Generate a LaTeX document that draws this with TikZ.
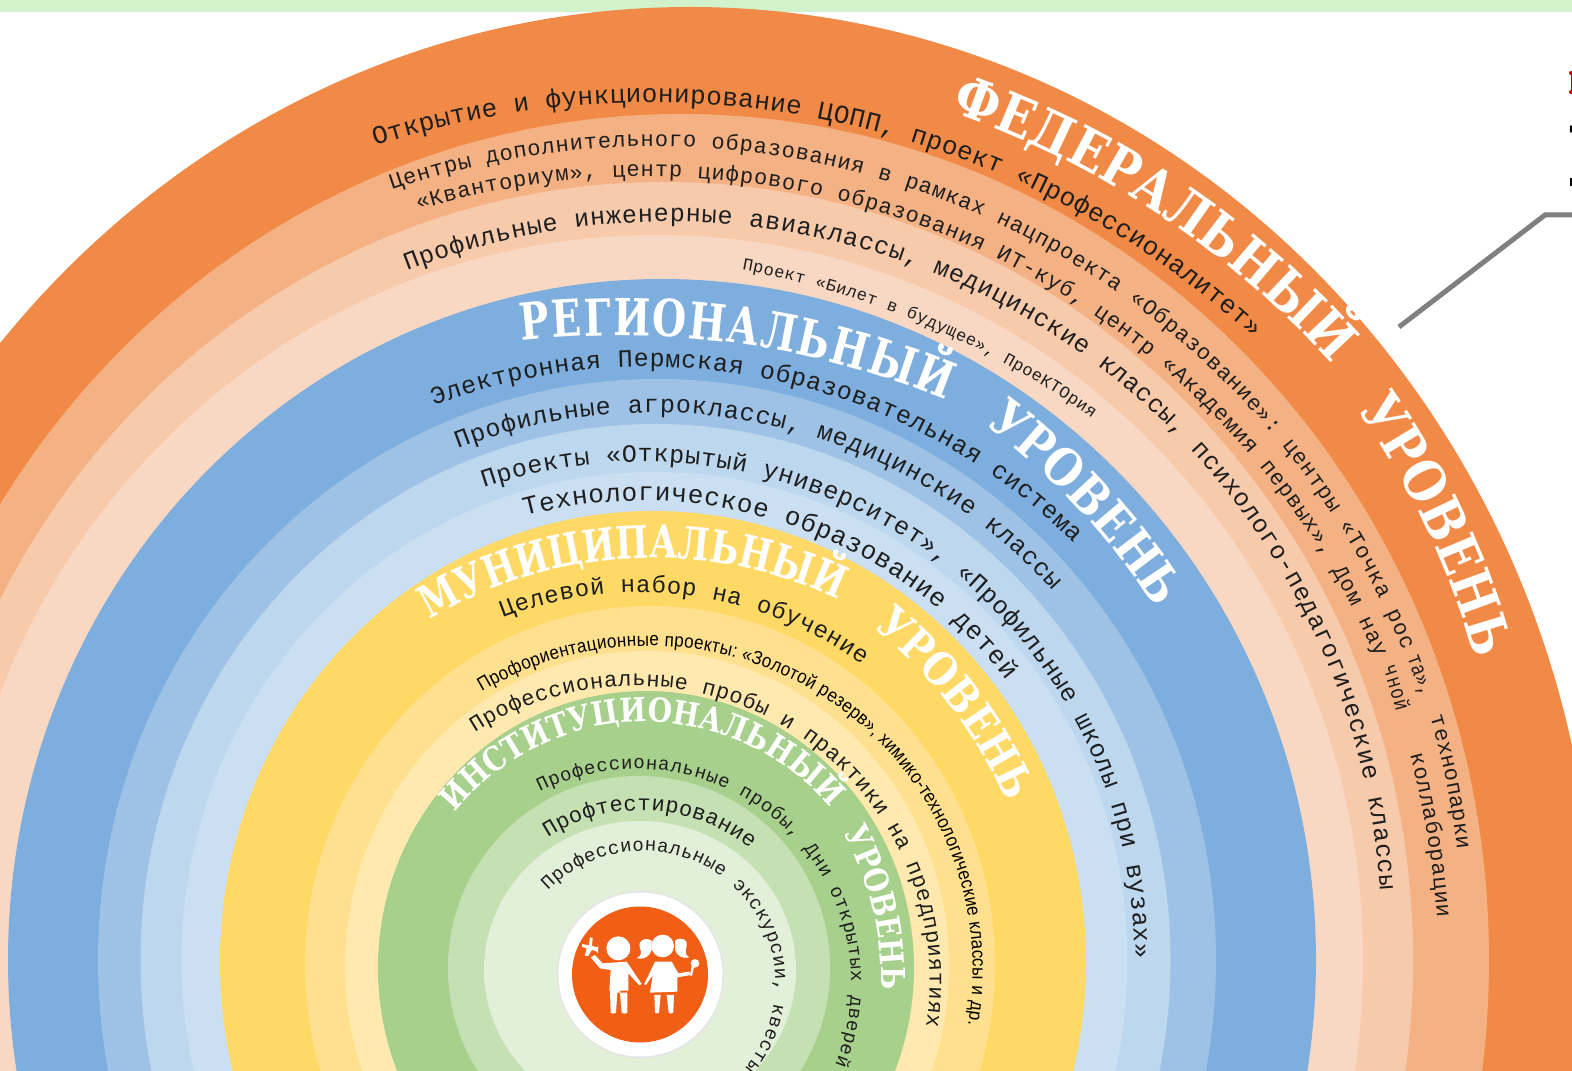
\documentclass[tikz,border=0pt]{standalone}
\usepackage{fontspec}
\usetikzlibrary{decorations.text}
\newfontfamily\monof{Liberation Mono}
\newfontfamily\squishf[FakeStretch=0.8]{Liberation Mono}
\newfontfamily\bmonof[FakeStretch=0.85]{DejaVu Serif}
\newfontfamily\bmononf[FakeStretch=0.77]{DejaVu Serif}
\newfontfamily\sansf[FakeStretch=0.9]{Liberation Sans}
\definecolor{o1}{HTML}{F18A47}
\definecolor{o2}{HTML}{F4B183}
\definecolor{o3}{HTML}{F7CAAC}
\definecolor{o4}{HTML}{F9D8C3}
\definecolor{b1}{HTML}{7DAEDD}
\definecolor{b2}{HTML}{9DC2E6}
\definecolor{b3}{HTML}{BDD7EE}
\definecolor{b4}{HTML}{CBDFF3}
\definecolor{y1}{HTML}{FFD966}
\definecolor{y2}{HTML}{FFE08F}
\definecolor{y3}{HTML}{FFE9AE}
\definecolor{g1}{HTML}{A8D08D}
\definecolor{g2}{HTML}{C5E0B3}
\definecolor{g3}{HTML}{E2EFD9}
\definecolor{stripe}{HTML}{D2F2CC}
\definecolor{logoor}{HTML}{F15E16}
\definecolor{txt}{HTML}{1E1E1E}
\newcommand\fbody{\monof\color{txt}}
\newcommand\fsq{\squishf\color{txt}}
\newcommand\fhead{\bmonof\bfseries\color{white}}
\newcommand\fheadn{\bmononf\bfseries\color{white}}
\newcommand\fsans{\sansf\color{black}}
\newcommand\ring[5]{\fill[#1] (#2,1071-#3) ellipse[x radius=#4,y radius=#5];}
% text on the circle through three points (image pixels)
\newcommand\arctext[9]{%
\pgfmathsetmacro\tax{#1/100}\pgfmathsetmacro\tay{(1071-#2)/100}%
\pgfmathsetmacro\tbx{#3/100}\pgfmathsetmacro\tby{(1071-#4)/100}%
\pgfmathsetmacro\tcx{#5/100}\pgfmathsetmacro\tcy{(1071-#6)/100}%
\pgfmathsetmacro\tD{2*(\tax*(\tby-\tcy)+\tbx*(\tcy-\tay)+\tcx*(\tay-\tby))}%
\pgfmathsetmacro\tA{\tax*\tax+\tay*\tay}\pgfmathsetmacro\tB{\tbx*\tbx+\tby*\tby}\pgfmathsetmacro\tC{\tcx*\tcx+\tcy*\tcy}%
\pgfmathsetmacro\tux{(\tA*(\tby-\tcy)+\tB*(\tcy-\tay)+\tC*(\tay-\tby))/\tD}%
\pgfmathsetmacro\tuy{(\tA*(\tcx-\tbx)+\tB*(\tax-\tcx)+\tC*(\tbx-\tax))/\tD}%
\pgfmathsetmacro\tr{100*sqrt((\tax-\tux)*(\tax-\tux)+(\tay-\tuy)*(\tay-\tuy))}%
\pgfmathsetmacro\tsa{atan2(\tay-\tuy,\tax-\tux)}%
\pgfmathsetmacro\tea{atan2(\tcy-\tuy,\tcx-\tux)}%
\def\curfmt{#7\fontsize{#8}{#8}\selectfont}%
\path[decorate,decoration={text along path,text align={fit to path},text={|\curfmt|#9}}]
  (#1,1071-#2) arc[start angle=\tsa,end angle=\tea,radius=\tr];%
}
\begin{document}
\begin{tikzpicture}[x=1pt,y=1pt]
\useasboundingbox (0,0) rectangle (1572,1071);
\clip (0,0) rectangle (1572,1071);
\fill[white] (0,0) rectangle (1572,1071);
\fill[stripe] (0,1059) rectangle (1572,1071);
% rings
\ring{o1}{690}{960}{905}{953}
\ring{o2}{681}{960}{808}{846}
\ring{o3}{664}{960}{749}{778}
\ring{o4}{657}{960}{706}{725}
\ring{b1}{662}{960}{654}{681}
\ring{b2}{657}{960}{559}{581}
\ring{b3}{655.5}{960}{515}{536}
\ring{b4}{654.5}{960}{473}{488}
\ring{y1}{653}{962}{433}{451}
\ring{y2}{650}{965}{345}{359}
\ring{y3}{647}{966}{302}{315}
\ring{g1}{646}{968}{268}{277}
\ring{g2}{639}{968}{191}{192}
\ring{g3}{640}{970}{156}{149}
% pointer line and cropped marks at the right edge
\draw[line width=5pt,color=black!50] (1399,1071-327) -- (1545,1071-215) -- (1572,1071-215);
\draw[red!75!black,line width=.4pt] (1571,1071-73) -- (1571,1071-92);
\fill[red!80!black] (1571,1071-73) circle[radius=2] (1571,1071-92) circle[radius=2];
\fill[black] (1571,1071-129) ellipse[x radius=1.2,y radius=4];
\fill[black] (1570,1071-186) rectangle (1572,1071-178);
% logo
\fill[black!10] (640.5,1071-974.5) circle[radius=83.5];
\fill[white] (640.5,1071-974.5) circle[radius=82];
\fill[logoor] (640,1071-974.5) circle[radius=68];
\begin{scope}[shift={(540,201)},x=.33333pt,y=-.33333pt,white]
\fill (235,235) circle[radius=36];
\fill (368,228) circle[radius=34];
% boy
\fill (152,262) -- (165,255) -- (188,280) -- (260,275) -- (305,342) -- (298,346) -- (265,310) -- (265,362) -- (240,362)
  -- (240,368) -- (262,368) -- (262,428) to[bend left=40] (245,428) -- (240,368) -- (232,368) -- (228,428) to[bend left=40] (212,428) -- (210,362) -- (208,362) -- (212,300) -- (180,295) -- cycle;
% plane
\fill (150,202) -- (158,204) -- (156,228) -- (172,232) -- (174,226) -- (174,250) -- (168,243) -- (155,240) -- (145,258) -- (134,258) -- (140,236) -- (126,230) -- (126,222) -- (146,226) -- cycle;
% girl
\fill (345,275) -- (395,275) -- (415,310) -- (448,305) -- (452,315) -- (412,322) -- (412,365) -- (330,368) -- (338,315) -- (318,345) -- (313,342) -- cycle;
\fill (343,375) -- (362,375) -- (357,428) to[bend left=40] (345,428) -- cycle;
\fill (380,375) -- (402,375) -- (400,428) to[bend left=40] (386,428) -- cycle;
\fill (465,280) circle[radius=13];
\fill (462,290) -- (456,318) -- (450,316) -- (455,288) -- cycle;
\fill (335,212) .. controls (315,200) and (292,210) .. (300,235) .. controls (305,250) and (305,255) .. (290,265) .. controls (310,270) and (330,260) .. (335,240) -- cycle;
\fill (405,212) .. controls (425,198) and (445,210) .. (440,228) .. controls (435,245) and (435,255) .. (448,262) .. controls (430,268) and (410,258) .. (405,240) -- cycle;
\end{scope}
% headings
\arctext{950}{112}{1150}{209}{1325}{357}{\fhead}{56}{ФЕДЕРАЛЬНЫЙ}
\arctext{1357}{410}{1427}{530}{1472}{648}{\fhead}{56}{УРОВЕНЬ}
\arctext{522}{341}{740}{344}{946}{400}{\fheadn}{51}{РЕГИОНАЛЬНЫЙ}
\arctext{985}{425}{1070}{500}{1148}{597}{\fhead}{51}{УРОВЕНЬ}
\arctext{430}{620}{650}{558}{838}{600}{\fheadn}{45}{МУНИЦИПАЛЬНЫЙ}
\arctext{873}{628}{947}{702}{1003}{793}{\fhead}{45}{УРОВЕНЬ}
\arctext{455}{813}{650}{722}{826}{803}{\fhead}{33}{ИНСТИТУЦИОНАЛЬНЫЙ}
\arctext{843}{833}{872}{905}{881}{983}{\fhead}{33}{УРОВЕНЬ}
% federal
\arctext{375}{146}{620}{103}{1252}{337}{\fbody}{26}{Открытие и функционирование ЦОПП, проект «Профессионалитет»}
\arctext{392}{190}{783}{157}{1402}{648}{\fbody}{22}{Центры дополнительного образования в рамках нацпроекта «Образование»: центры «Точка рос}
\arctext{1407}{658}{1414}{677}{1421}{697}{\fsq}{22}{та»,}
\arctext{1430}{717}{1447}{785}{1457}{850}{\fbody}{22}{технопарки}
\arctext{418}{210}{760}{185}{1375}{656}{\fbody}{22}{«Кванториум», центр цифрового образования ИТ-куб, центр «Академия первых», Дом нау}
\arctext{1383}{668}{1390}{690}{1396}{712}{\fsq}{22}{чной}
\arctext{1410}{755}{1428}{840}{1437}{918}{\fbody}{22}{коллаборации}
\arctext{407}{271}{819}{238}{1380}{890}{\fbody}{25}{Профильные инженерные авиаклассы, медицинские классы, психолого-педагогические классы}
\arctext{742}{270}{948}{335}{1092}{418}{\fbody}{17}{Проект «Билет в будущее», ПроеКТОрия}
% regional
\arctext{434}{406}{685}{368}{1073}{543}{\fbody}{25}{Электронная Пермская образовательная система}
\arctext{458}{449}{675}{413}{1052}{590}{\fbody}{25}{Профильные агроклассы, медицинские классы}
\arctext{484}{488}{675}{463}{1134}{958}{\fbody}{25}{Проекты «Открытый университет», «Профильные школы при вузах»}
\arctext{525}{516}{675}{502}{1006}{680}{\fbody}{26}{Технологическое образование детей}
% municipal
\arctext{503}{618}{662}{593}{862}{665}{\fbody}{24}{Целевой набор на обучение}
\arctext{482}{692}{641}{646}{968}{1025}{\fsans}{19}{Профориентационные проекты: «Золотой резерв», химико-технологические классы и др.}
\arctext{475}{733}{641}{686}{926}{1027}{\fbody}{22}{Профессиональные пробы и практики на предприятиях}
% institutional
\arctext{540}{792}{641}{769}{835}{1065}{\fbody}{19}{Профессиональные пробы, Дни открытых дверей}
\arctext{548}{838}{657}{811}{750}{849}{\fbody}{22}{Профтестирование}
\arctext{548}{891}{641}{851}{745}{1068}{\fbody}{19}{Профессиональные экскурсии, квесты}
\end{tikzpicture}
\end{document}
